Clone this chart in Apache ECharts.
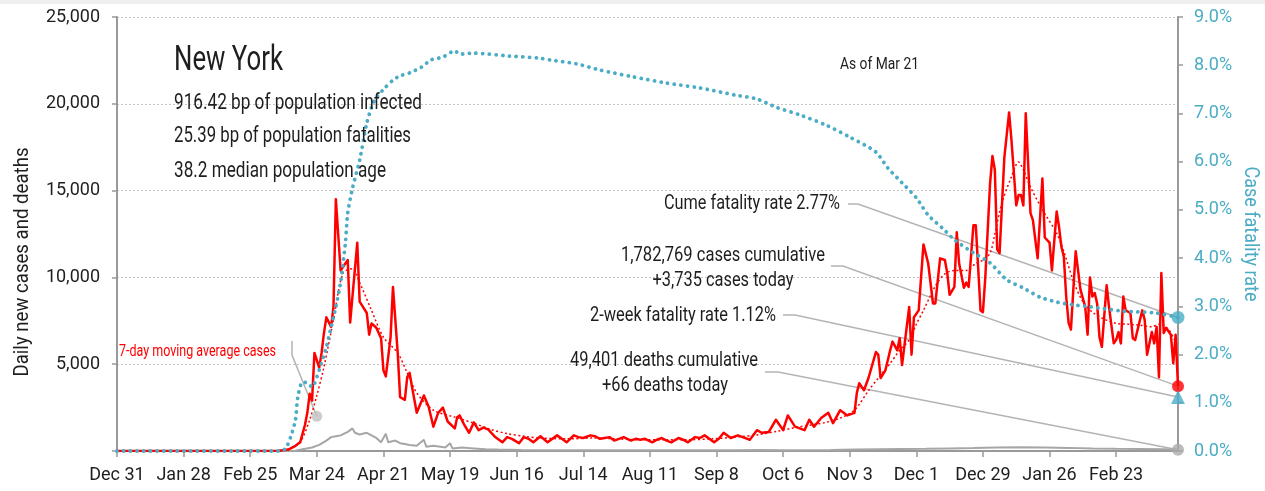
<!DOCTYPE html>
<html><head><meta charset="utf-8">
<script src="https://cdn.jsdelivr.net/npm/echarts@6/dist/echarts.min.js"></script>
<style>html,body{margin:0;padding:0;background:#fff}#c{width:1265px;height:491px}</style>
</head><body><div id="c"></div><script>
const FONT = 'Roboto, "Liberation Sans", sans-serif';

// x-axis tick labels, every 28 days starting Dec 31, 2019 (day 0)
const tickLabels = ["Dec 31","Jan 28","Feb 25","Mar 24","Apr 21","May 19","Jun 16","Jul 14","Aug 11","Sep 8","Oct 6","Nov 3","Dec 1","Dec 29","Jan 26","Feb 23"];
const lastDay = 446; // Mar 21, 2021

// daily new cases [day, cases]
const dailyCases = [[0,0],[40,0],[60,0],[68,20],[72,80],[73,150],[75,300],[77,500],[79,1500],[80,2200],[81,3300],[82,2900],[83,5650],[85,4800],[86,5650],[87,6800],[88,7700],[90,7150],[91,8300],[92,14500],[94,10400],[95,10600],[97,11000],[98,7400],[101,12000],[102,8600],[105,7950],[106,6700],[107,7350],[109,7100],[111,6500],[112,4650],[113,4300],[115,6550],[116,9450],[118,5650],[119,3100],[121,2950],[122,4250],[123,4500],[124,3700],[125,2950],[126,2200],[129,3200],[131,2550],[133,1400],[135,2200],[137,2500],[139,1700],[142,1300],[143,1950],[144,2050],[146,1500],[148,1050],[150,1650],[152,1200],[154,1350],[156,1250],[159,800],[162,500],[164,800],[166,700],[169,450],[171,800],[173,700],[175,500],[178,850],[181,500],[185,900],[187,700],[189,500],[192,900],[194,800],[196,750],[199,900],[201,850],[203,700],[205,750],[207,800],[209,600],[211,700],[213,800],[216,600],[218,700],[220,650],[222,700],[225,500],[227,650],[229,750],[231,600],[233,500],[236,750],[238,650],[240,500],[243,800],[245,750],[247,900],[249,700],[251,500],[253,700],[255,1050],[258,750],[261,900],[263,800],[266,650],[269,1200],[271,1050],[274,1100],[277,1800],[280,1200],[282,2050],[285,1400],[287,1300],[289,1200],[291,1800],[293,1400],[296,1900],[299,2200],[301,1600],[304,2350],[307,2050],[310,2200],[311,3350],[312,3900],[314,3500],[316,4250],[319,5700],[320,5550],[321,4200],[323,4650],[325,5800],[326,6300],[328,5800],[329,6500],[330,4950],[333,8300],[334,5550],[335,7700],[337,8100],[339,11900],[341,10800],[343,8500],[344,8500],[346,11100],[348,11000],[349,10250],[350,9000],[352,9450],[353,12600],[354,10800],[356,9400],[357,9700],[358,9450],[360,13000],[361,13000],[363,8100],[364,8000],[365,10000],[367,15400],[368,17000],[369,16200],[370,11600],[371,11400],[373,16900],[375,19500],[376,17900],[378,14150],[379,14750],[380,14750],[381,14150],[382,19450],[384,13700],[385,13300],[387,11100],[389,15700],[390,12300],[392,12000],[393,10400],[395,13800],[396,12900],[397,11750],[398,11200],[399,8900],[400,7400],[401,7000],[402,9300],[403,11500],[405,9300],[407,8300],[408,6700],[409,10000],[410,8900],[411,9100],[412,8500],[413,6550],[414,6000],[416,9550],[417,8300],[419,6200],[420,6400],[421,6850],[422,6200],[423,8900],[424,8100],[426,7950],[427,6500],[428,6400],[430,7550],[431,8100],[432,7550],[433,5550],[435,6850],[436,6200],[437,7150],[438,4250],[439,10250],[440,6800],[441,7100],[443,6700],[444,5050],[445,6700],[446,3735]];

// 7-day moving average of cases [day, cases]
const movingAvg7 = [[0,0],[70,0],[73,150],[77,500],[81,1800],[84,3200],[87,4850],[91,7550],[95,10250],[99,10500],[102,9700],[107,8100],[112,6550],[118,5650],[122,4500],[126,3350],[133,2350],[142,1950],[150,1600],[157,1250],[164,1000],[171,850],[178,750],[190,700],[200,750],[210,700],[220,650],[230,650],[240,650],[250,700],[260,800],[270,950],[278,1150],[285,1350],[292,1500],[298,1650],[304,1900],[310,2350],[316,3500],[320,4200],[325,5050],[329,5800],[333,6400],[336,7300],[339,8100],[344,9500],[348,10200],[352,10400],[357,10400],[361,10800],[364,11000],[367,11400],[369,12500],[372,14300],[376,15800],[379,16650],[381,16200],[384,15200],[389,13900],[395,12550],[398,11500],[402,9800],[406,8600],[410,8000],[415,7600],[420,7350],[425,7300],[430,7250],[435,7150],[438,7300],[442,7000],[446,6000]];

// daily deaths [day, deaths]
const dailyDeaths = [[0,0],[72,0],[75,20],[78,100],[82,200],[85,350],[88,600],[90,800],[92,850],[94,900],[97,1100],[99,1300],[100,1050],[102,950],[105,1050],[107,900],[109,750],[111,500],[113,1000],[114,500],[117,600],[119,450],[121,400],[123,350],[126,300],[129,650],[130,250],[133,300],[136,250],[138,200],[140,450],[141,150],[145,200],[150,150],[155,100],[160,80],[170,60],[180,50],[200,40],[230,40],[260,40],[270,60],[280,50],[300,60],[310,80],[320,100],[330,120],[340,130],[350,150],[360,170],[370,200],[380,220],[390,200],[400,180],[410,150],[420,130],[430,120],[440,100],[446,66]];

// cumulative case fatality rate, % [day, pct]
const caseFatalityPct = [[0,0],[69,0],[71,0.06],[73,0.29],[75,0.64],[76,1.12],[78,1.43],[80,1.41],[82,1.33],[85,1.68],[88,2.16],[90,2.57],[92,2.99],[94,3.5],[96,4.31],[97,4.94],[99,5.45],[102,6.03],[105,6.8],[108,7.25],[112,7.5],[116,7.69],[119,7.78],[123,7.84],[128,7.96],[132,8.11],[137,8.17],[142,8.30],[144,8.23],[150,8.25],[165,8.19],[177,8.15],[182,8.11],[193,8.03],[203,7.90],[217,7.76],[231,7.63],[245,7.53],[260,7.38],[269,7.30],[277,7.13],[287,6.97],[298,6.76],[308,6.51],[319,6.20],[324,5.87],[330,5.56],[336,5.25],[341,4.89],[347,4.62],[352,4.38],[360,4.11],[367,3.90],[374,3.55],[381,3.38],[388,3.19],[395,3.09],[402,3.03],[409,2.99],[423,2.90],[437,2.86],[446,2.77]];

// latest values
const cumeFatalityRate = 2.77;
const twoWeekFatalityRate = 1.12;
const casesToday = 3735;
const deathsToday = 66;
const maPointerDay = 84;
const maPointerValue = 2000;

const TXT = '#1e1e1e', CYAN = '#4bacc6', RED = '#ff0000', GRAYL = '#a6a6a6', LEAD = '#b4b4b4', AXIS = '#999999';

const chart = echarts.init(document.getElementById('c'), null, {renderer:'canvas'});
chart.setOption({
  animation:false,
  grid:{left:117, right:87, top:17, bottom:40},
  xAxis:{type:'value', min:0, max:lastDay, interval:28,
    axisLine:{lineStyle:{color:AXIS, width:2}},
    axisTick:{length:6, lineStyle:{color:AXIS, width:1.5}},
    axisLabel:{formatter:v=>{const i=v/28; return Number.isInteger(i)&&i<tickLabels.length?tickLabels[i]:'';}, margin:15, color:TXT, fontSize:18, fontFamily:FONT, showMaxLabel:false},
    splitLine:{show:false}},
  yAxis:[
    {type:'value', min:0, max:25000, interval:5000, position:'left',
     axisLine:{show:true, lineStyle:{color:AXIS, width:2}},
     axisTick:{show:true, length:5, lineStyle:{color:AXIS, width:1.5}},
     axisLabel:{formatter:v=>v===0?'':v.toLocaleString('en-US'), margin:17, color:TXT, fontSize:18, fontFamily:FONT},
     splitLine:{show:true, lineStyle:{color:'#c4c4c4', type:[2,2], width:1}}},
    {type:'value', min:0, max:9, interval:1, position:'right',
     axisLine:{show:true, lineStyle:{color:AXIS, width:2}},
     axisTick:{show:true, length:5, lineStyle:{color:AXIS, width:1.5}},
     axisLabel:{formatter:v=>v.toFixed(1)+'%', margin:16, color:CYAN, fontSize:18, fontFamily:FONT},
     splitLine:{show:false}}
  ],
  series:[
    {type:'line', data:dailyDeaths, showSymbol:false, z:2, lineStyle:{color:GRAYL, width:2}},
    {type:'line', data:movingAvg7, showSymbol:false, smooth:0.3, z:3, lineStyle:{color:RED, width:1.5, type:[2,2.5]}},
    {type:'line', data:dailyCases, showSymbol:false, z:4, lineStyle:{color:RED, width:2.5, join:'round'}},
    {type:'line', yAxisIndex:1, data:caseFatalityPct, showSymbol:false, smooth:0.25, z:5, lineStyle:{color:CYAN, width:3.8, type:[0.1,6.6], cap:'round'}},
    {type:'scatter', data:[[maPointerDay, maPointerValue]], symbol:'circle', symbolSize:11, z:6, itemStyle:{color:'#c0c0c0'}},
    {type:'scatter', data:[[lastDay, deathsToday]], symbol:'circle', symbolSize:12, z:6, itemStyle:{color:'#aaaaaa'}},
    {type:'scatter', data:[[lastDay, casesToday]], symbol:'circle', symbolSize:12, z:7, itemStyle:{color:RED}},
    {type:'scatter', yAxisIndex:1, data:[[lastDay, twoWeekFatalityRate]], symbol:'triangle', symbolSize:14, z:7, itemStyle:{color:CYAN}},
    {type:'scatter', yAxisIndex:1, data:[[lastDay, cumeFatalityRate]], symbol:'circle', symbolSize:13, z:7, itemStyle:{color:CYAN}}
  ]
});

const px = (d, v, yi) => chart.convertToPixel({xAxisIndex:0, yAxisIndex:yi}, [d, v]);
const pCume = px(lastDay, cumeFatalityRate, 1);
const pCases = px(lastDay, casesToday, 0);
const pTwo = px(lastDay, twoWeekFatalityRate, 1);
const pDeaths = px(lastDay, deathsToday, 0);
const pMA = px(maPointerDay, maPointerValue, 0);

// condensed text: horizontally scaled to the reference's narrow typeface
const mctx = document.createElement('canvas').getContext('2d');
function ctext(text, x, y, size, width, align, color, rot) {
  const font = `${size}px ${FONT}`;
  mctx.font = font;
  const s = width / mctx.measureText(text).width;
  return {type:'text', z:10, x, y, scaleX:s, rotation:rot||0,
    style:{text, x:0, y:0, fill:color||TXT, font, textAlign:align||'left', textVerticalAlign:'middle'}};
}
const lead = pts => ({type:'polyline', z:1, shape:{points:pts}, style:{stroke:LEAD, lineWidth:1.5, fill:null}});

chart.setOption({graphic:[
  {type:'rect', z:0, shape:{x:0, y:0, width:1265, height:4}, style:{fill:'#efefef'}},
  ctext('New York', 174, 61, 35, 109),
  ctext('916.42 bp of population infected', 174, 103, 22, 248),
  ctext('25.39 bp of population fatalities', 174, 136, 22, 237),
  ctext('38.2 median population age', 174, 171, 22, 212),
  ctext('As of Mar 21', 840, 65, 17, 79),
  ctext('7-day moving average cases', 119, 352, 16, 157, 'left', RED),
  ctext('Cume fatality rate 2.77%', 840, 204, 20, 176, 'right'),
  ctext('1,782,769 cases cumulative', 723, 256, 20, 204, 'center'),
  ctext('+3,735 cases today', 723, 281, 20, 141, 'center'),
  ctext('2-week fatality rate 1.12%', 776, 316, 20, 186, 'right'),
  ctext('49,401 deaths cumulative', 664, 361, 20, 188, 'center'),
  ctext('+66 deaths today', 665, 386, 20, 126, 'center'),
  ctext('Daily new cases and deaths', 23, 262, 21, 229, 'center', TXT, Math.PI/2),
  ctext('Case fatality rate', 1250, 234, 21, 135, 'center', CYAN, -Math.PI/2),
  lead([[848,204],[858,204],pCume]),
  lead([[831,266],[843,266],pCases]),
  lead([[783,315],[795,315],pTwo]),
  lead([[765,372],[778,372],pDeaths]),
  lead([[292,341],[292,355],pMA])
]});
</script></body></html>
